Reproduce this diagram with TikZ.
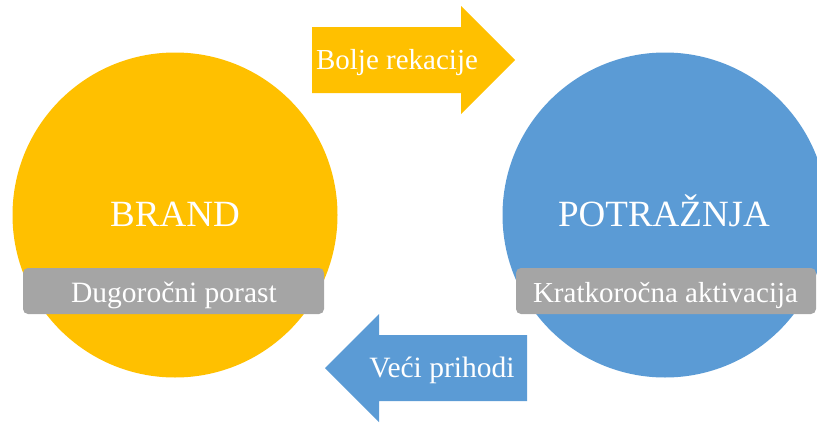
\documentclass[tikz,border=0pt]{standalone}
\usepackage{fontspec}
\setmainfont{Liberation Serif}
\definecolor{cyellow}{HTML}{FFC000}
\definecolor{cblue}{HTML}{5B9BD5}
\definecolor{cgray}{HTML}{A5A5A5}
\begin{document}
\begin{tikzpicture}[x=1pt,y=-1pt,
  bigcircle/.style={circle,minimum size=325pt,inner sep=0pt},
  graybox/.style={rectangle,rounded corners=5pt,fill=cgray,minimum width=301pt,minimum height=46pt,inner sep=0pt},
  bigtext/.style={text=white,font=\fontsize{37}{40}\selectfont,anchor=base,inner sep=0pt},
  midtext/.style={text=white,font=\fontsize{29}{32}\selectfont,anchor=base,inner sep=0pt}]
\useasboundingbox (0,0) rectangle (817,423);
\clip (0,0) rectangle (817,423);
% circles
\node[bigcircle,fill=cyellow] (brand) at (175,215) {};
\node[bigcircle,fill=cblue] (potr) at (665,215) {};
% arrows
\fill[cyellow] (312,27) -- (461,27) -- (461,6) -- (515,60) -- (461,114) -- (461,93) -- (312,93) -- cycle;
\fill[cblue] (527,335) -- (379,335) -- (379,314) -- (325,368) -- (379,422) -- (379,401) -- (527,401) -- cycle;
% gray boxes
\node[graybox] (box1) at (173.5,291) {};
\node[graybox,minimum width=300pt] (box2) at (666,291) {};
% texts
\node[bigtext] (t1) at (175,226) {BRAND};
\node[bigtext] (t2) at (664,226) {POTRAŽNJA};
\node[midtext,font=\fontsize{29.5}{32}\selectfont] (t3) at (174,302) {Dugoročni porast};
\node[midtext] (t4) at (665.5,302) {Kratkoročna aktivacija};
\node[midtext] (t5) at (397,69) {Bolje rekacije};
\node[midtext,font=\fontsize{29.5}{32}\selectfont] (t6) at (442,377) {Veći prihodi};
\end{tikzpicture}
\end{document}
